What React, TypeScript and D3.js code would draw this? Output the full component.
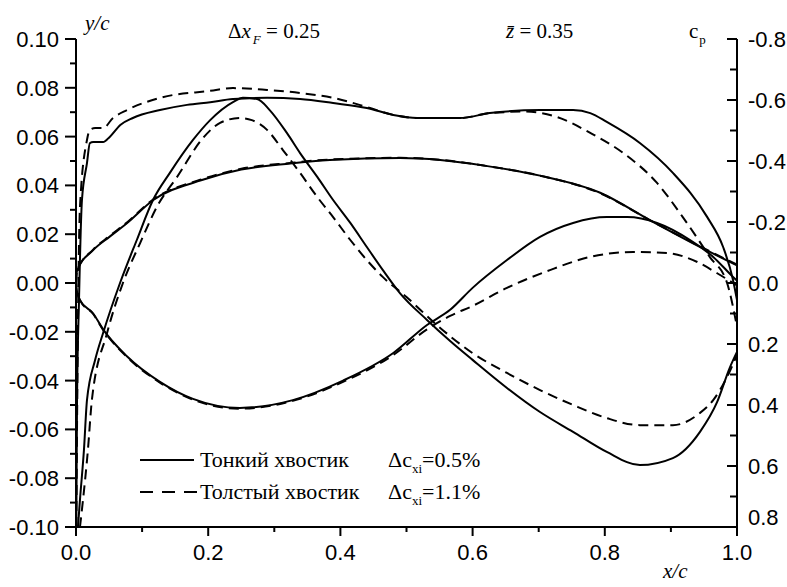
import * as d3 from "d3"

type Pt = [number, number]

// airfoil contours, y/c against x/c
const upperThin: Pt[] = [[0, 0.0], [0.0015, 0.005], [0.026, 0.0135], [0.051, 0.019], [0.077, 0.0245], [0.117, 0.034], [0.188, 0.042], [0.25, 0.0465], [0.324, 0.049], [0.384, 0.0504], [0.49, 0.0512], [0.551, 0.0504], [0.62, 0.048], [0.702, 0.044], [0.793, 0.037], [0.868, 0.0258], [0.944, 0.0148], [1.0, 0.0072]]
const upperThick: Pt[] = [[0, 0.0], [0.0015, 0.005], [0.026, 0.0137], [0.051, 0.0193], [0.077, 0.0248], [0.117, 0.0343], [0.188, 0.0423], [0.25, 0.0468], [0.324, 0.0492], [0.384, 0.0506], [0.49, 0.0513], [0.551, 0.0505], [0.62, 0.048], [0.702, 0.044], [0.793, 0.0368], [0.868, 0.0258], [0.944, 0.015], [1.0, 0.0075]]
const lowerThin: Pt[] = [[0, 0.0], [0.001, -0.003], [0.006, -0.007], [0.026, -0.0125], [0.041, -0.019], [0.077, -0.030], [0.127, -0.0405], [0.177, -0.0475], [0.248, -0.0512], [0.328, -0.048], [0.404, -0.040], [0.48, -0.0287], [0.531, -0.0172], [0.566, -0.011], [0.60, -0.002], [0.652, 0.0094], [0.702, 0.0189], [0.752, 0.0246], [0.803, 0.027], [0.834, 0.027], [0.879, 0.0246], [0.929, 0.0176], [0.964, 0.0107], [0.994, 0.0025], [1.0, 0.001]]
const lowerThick: Pt[] = [[0, 0.0], [0.001, -0.003], [0.006, -0.007], [0.026, -0.0127], [0.041, -0.0192], [0.077, -0.0303], [0.127, -0.0408], [0.177, -0.0478], [0.248, -0.0515], [0.328, -0.0483], [0.404, -0.0405], [0.48, -0.0295], [0.531, -0.019], [0.566, -0.0135], [0.60, -0.0094], [0.652, -0.002], [0.717, 0.0053], [0.778, 0.0107], [0.843, 0.0127], [0.894, 0.0123], [0.94, 0.0086], [0.97, 0.004], [1.0, -0.001]]

// pressure coefficient, right axis (inverted)
const cpTopThin: Pt[] = [[0.0005, 0.80], [0.0015, 0.40], [0.0045, 0.06], [0.009, -0.272], [0.0166, -0.393], [0.021, -0.459], [0.026, -0.462], [0.041, -0.462], [0.051, -0.479], [0.067, -0.518], [0.086, -0.541], [0.127, -0.567], [0.168, -0.584], [0.203, -0.593], [0.2375, -0.603], [0.289, -0.607], [0.339, -0.603], [0.389, -0.590], [0.44, -0.574], [0.48, -0.551], [0.516, -0.541], [0.581, -0.541], [0.626, -0.557], [0.702, -0.567], [0.752, -0.567], [0.778, -0.557], [0.803, -0.528], [0.853, -0.459], [0.903, -0.361], [0.955, -0.216], [0.979, -0.118], [0.994, -0.01], [1.0, 0.056]]
const cpTopThick: Pt[] = [[0.0005, 0.80], [0.002, 0.35], [0.006, -0.249], [0.0166, -0.469], [0.021, -0.502], [0.029, -0.508], [0.041, -0.508], [0.056, -0.541], [0.077, -0.567], [0.127, -0.607], [0.203, -0.630], [0.2375, -0.639], [0.289, -0.633], [0.339, -0.623], [0.389, -0.607], [0.44, -0.577], [0.48, -0.551], [0.516, -0.541], [0.581, -0.541], [0.626, -0.557], [0.68, -0.562], [0.728, -0.544], [0.778, -0.492], [0.828, -0.426], [0.879, -0.328], [0.918, -0.216], [0.959, -0.085], [0.985, 0.0], [1.0, 0.144]]
const cpLowThin: Pt[] = [[0.003, 0.80], [0.006, 0.711], [0.012, 0.548], [0.0166, 0.384], [0.029, 0.252], [0.041, 0.164], [0.0666, 0.0], [0.092, -0.141], [0.1165, -0.272], [0.142, -0.361], [0.177, -0.469], [0.203, -0.534], [0.2375, -0.593], [0.2526, -0.607], [0.274, -0.603], [0.293, -0.567], [0.319, -0.492], [0.339, -0.426], [0.365, -0.348], [0.389, -0.272], [0.415, -0.197], [0.44, -0.118], [0.464, -0.043], [0.49, 0.033], [0.531, 0.121], [0.566, 0.19], [0.60, 0.252], [0.652, 0.344], [0.702, 0.423], [0.752, 0.488], [0.803, 0.554], [0.853, 0.597], [0.903, 0.574], [0.944, 0.488], [0.97, 0.39], [0.989, 0.278], [1.0, 0.226]]
const cpLowThick: Pt[] = [[0.006, 0.80], [0.0106, 0.711], [0.018, 0.548], [0.024, 0.384], [0.047, 0.164], [0.071, 0.0], [0.097, -0.131], [0.124, -0.256], [0.153, -0.348], [0.192, -0.475], [0.218, -0.525], [0.248, -0.541], [0.266, -0.534], [0.289, -0.502], [0.313, -0.436], [0.339, -0.361], [0.365, -0.282], [0.389, -0.216], [0.415, -0.141], [0.44, -0.075], [0.464, -0.020], [0.50, 0.046], [0.546, 0.138], [0.60, 0.230], [0.652, 0.295], [0.702, 0.351], [0.752, 0.40], [0.803, 0.443], [0.853, 0.466], [0.903, 0.466], [0.944, 0.426], [0.964, 0.384], [0.985, 0.308], [1.0, 0.236]]

const xTicks = [0, 0.2, 0.4, 0.6, 0.8, 1.0]
const xMinor = [0.1, 0.3, 0.5, 0.7, 0.9]
const yTicks = [-0.1, -0.08, -0.06, -0.04, -0.02, 0, 0.02, 0.04, 0.06, 0.08, 0.1]
const yMinor = [-0.09, -0.07, -0.05, -0.03, -0.01, 0.01, 0.03, 0.05, 0.07, 0.09]
const cpTicks = [-0.8, -0.6, -0.4, -0.2, 0, 0.2, 0.4, 0.6, 0.8]
const cpMinor = [-0.7, -0.5, -0.3, -0.1, 0.1, 0.3, 0.5, 0.7]

// single family names: font lists fall back oddly in this renderer
const SERIF = '"Liberation Serif"'
const SANS = '"Liberation Sans"'

const left = 76, right = 737, top = 39, bottom = 527

const x = d3.scaleLinear().domain([0, 1]).range([left, right])
const y = d3.scaleLinear().domain([-0.1, 0.1]).range([bottom, top])
const cp = d3.scaleLinear().domain([-0.8, 0.8]).range([top, bottom])

const lineY = d3.line<Pt>().x(d => x(d[0])).y(d => y(d[1])).curve(d3.curveMonotoneX)
const lineCp = d3.line<Pt>().x(d => x(d[0])).y(d => cp(d[1])).curve(d3.curveMonotoneX)

const curves = [
    { d: lineY(upperThin), dash: false },
    { d: lineY(upperThick), dash: true },
    { d: lineY(lowerThin), dash: false },
    { d: lineY(lowerThick), dash: true },
    { d: lineCp(cpTopThin), dash: false },
    { d: lineCp(cpTopThick), dash: true },
    { d: lineCp(cpLowThin), dash: false },
    { d: lineCp(cpLowThick), dash: true },
]

export default function App() {
    return (
        <svg width={787} height={587} style={{ position: "absolute", left: 0, top: 0, background: "#fff" }}>
            <defs>
                <clipPath id="plot">
                    <rect x={left} y={top - 2} width={right - left + 1} height={bottom - top + 2} />
                </clipPath>
            </defs>

            <g clipPath="url(#plot)" fill="none" stroke="#000" strokeWidth={2}>
                {curves.map((c, i) => (
                    <path key={i} d={c.d || ""} strokeDasharray={c.dash ? "10,6" : undefined} />
                ))}
            </g>

            {/* axes lines */}
            <g stroke="#000" strokeWidth={2}>
                <line x1={left} x2={left} y1={top} y2={bottom + 1} />
                <line x1={right} x2={right} y1={top} y2={bottom + 1} />
                <line x1={left - 1} x2={right + 1} y1={bottom} y2={bottom} />
                {yTicks.map(v => <line key={"ym" + v} x1={left - 11} x2={left} y1={y(v)} y2={y(v)} />)}
                {yMinor.map(v => <line key={"yn" + v} x1={left - 6} x2={left} y1={y(v)} y2={y(v)} />)}
                {cpTicks.map(v => <line key={"cm" + v} x1={right - 10} x2={right} y1={cp(v)} y2={cp(v)} />)}
                {cpMinor.map(v => <line key={"cn" + v} x1={right - 7} x2={right} y1={cp(v)} y2={cp(v)} />)}
                {xTicks.map(v => <line key={"xm" + v} x1={x(v)} x2={x(v)} y1={bottom} y2={bottom + 9} />)}
                {xMinor.map(v => <line key={"xn" + v} x1={x(v)} x2={x(v)} y1={bottom} y2={bottom + 5} />)}
            </g>

            {/* tick labels */}
            {yTicks.map(v => (
                <text key={"yl" + v} x={left - 17} y={y(v)} dy="0.36em" textAnchor="end"
                    style={{ fontFamily: SANS, fontSize: "22px" }}>{v.toFixed(2)}</text>
            ))}
            {cpTicks.map(v => (
                <text key={"cl" + v} x={right + 11} y={cp(v) - (v === 0.8 ? 10 : 0)} dy="0.36em"
                    style={{ fontFamily: SANS, fontSize: "22px" }}>{v.toFixed(1)}</text>
            ))}
            {xTicks.map(v => (
                <text key={"xl" + v} x={x(v)} y={560} textAnchor="middle"
                    style={{ fontFamily: SANS, fontSize: "22px" }}>{v.toFixed(1)}</text>
            ))}

            {/* axis titles and annotations */}
            <text x={85} y={30} style={{ fontFamily: SERIF, fontSize: "21px", fontStyle: "italic" }}>y/c</text>
            <text x={663} y={578} style={{ fontFamily: SERIF, fontSize: "21px", fontStyle: "italic" }}>x/c</text>
            <text x={228} y={38} style={{ fontFamily: SERIF, fontSize: "21px" }}>
                Δ<tspan style={{ fontStyle: "italic" }}>x</tspan>
                <tspan dx={2} dy={6} style={{ fontStyle: "italic", fontSize: "13px" }}>F</tspan>
                <tspan dy={-6}> = 0.25</tspan>
            </text>
            <text x={506} y={38} style={{ fontFamily: SERIF, fontSize: "21px" }}>
                <tspan style={{ fontStyle: "italic" }}>{"z\u0304"}</tspan> = 0.35
            </text>
            <text x={689} y={38} style={{ fontFamily: SERIF, fontSize: "21px" }}>
                c<tspan dx={1} dy={6} style={{ fontSize: "13px" }}>p</tspan>
            </text>

            {/* legend */}
            <line x1={140} x2={194} y1={460} y2={460} stroke="#000" strokeWidth={2} />
            <line x1={140} x2={197} y1={492} y2={492} stroke="#000" strokeWidth={2} strokeDasharray="13,9" />
            <text x={200} y={467} style={{ fontFamily: SERIF, fontSize: "22px" }}>Тонкий хвостик</text>
            <text x={388} y={467} style={{ fontFamily: SERIF, fontSize: "22px" }}>
                Δc<tspan dy={6} style={{ fontSize: "13px" }}>xi</tspan><tspan dy={-6}>=0.5%</tspan>
            </text>
            <text x={200} y={499} style={{ fontFamily: SERIF, fontSize: "22px" }}>Толстый хвостик</text>
            <text x={388} y={499} style={{ fontFamily: SERIF, fontSize: "22px" }}>
                Δc<tspan dy={6} style={{ fontSize: "13px" }}>xi</tspan><tspan dy={-6}>=1.1%</tspan>
            </text>
        </svg>
    )
}
